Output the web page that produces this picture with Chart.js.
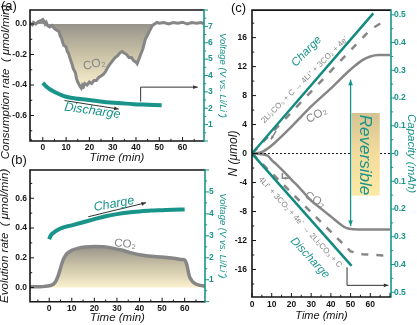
<!DOCTYPE html>
<html lang="en">
  <head>
    <meta charset="UTF-8" />
    <title>CO2 consumption / evolution during discharge and charge</title>
    <script src="https://cdn.jsdelivr.net/npm/chart.js"></script>
    <style>
      body {
        margin: 0;
        width: 417px;
        height: 325px;
        overflow: hidden;
        background: #fff;
        position: relative;
        font-family: 'Liberation Sans', Arial, sans-serif;
      }
      canvas { position: absolute; }
      .tag { position: absolute; font-size: 13px; color: #111; }
    </style>
  </head>
  <body>
    <canvas id="chartA" width="229" height="166" style="left:0;top:0"></canvas>
    <canvas id="chartB" width="229" height="165" style="left:0;top:160px"></canvas>
    <canvas id="chartC" width="195" height="325" style="left:222px;top:0"></canvas>
    <div class="tag" style="left:1px;top:-2px">(a)</div>
    <div class="tag" style="left:11px;top:152px">(b)</div>
    <div class="tag" style="left:231px;top:0">(c)</div>

    <script>
      // ---- (a) CO2 consumption rate during discharge (umol/min)
      const consTimeA = [-5.5, -4.5, -4, -3, -2, -1, 0, 0.5, 1, 1.5, 2, 3, 4, 5, 6, 7, 7.5, 8, 8.5, 9,
        10, 10.5, 11, 12, 12.5, 13, 14, 14.5, 15, 16, 16.5, 17, 17.5, 18, 19, 20, 21, 22, 23, 24,
        25, 26, 27, 28, 29, 30, 31, 32, 33, 34, 35, 36, 37, 38, 39, 40, 40.5, 41, 42, 43,
        44, 45, 46, 47, 48, 49, 50, 52, 54, 56, 58, 60, 62, 64, 66, 68, 69.2]
      const consRateA = [0.005, -0.005, 0.01, 0.0, 0.015, 0.02, 0.03, 0.02, 0.0, 0.01, -0.01, -0.02, -0.01, -0.03, -0.04, -0.05, -0.08, -0.09, -0.12, -0.14,
        -0.15, -0.18, -0.19, -0.24, -0.26, -0.29, -0.32, -0.36, -0.38, -0.41, -0.42, -0.40, -0.41, -0.39, -0.40, -0.38, -0.39, -0.37, -0.37, -0.35,
        -0.34, -0.33, -0.31, -0.28, -0.26, -0.24, -0.22, -0.21, -0.19, -0.18, -0.19, -0.20, -0.22, -0.22, -0.24, -0.25, -0.26, -0.24, -0.20, -0.16,
        -0.10, -0.07, -0.04, -0.01, 0.0, 0.01, 0.005, 0.01, 0.0, 0.01, 0.005, 0.012, 0.0, 0.01, 0.005, 0.01, 0.0]
      // (a) discharge voltage (V vs. Li/Li+)
      const dischTimeA = [0, 1, 2, 3, 4.5, 6, 8, 10, 14, 19, 24, 29, 34, 39, 45, 51]
      const dischVoltA = [3.55, 3.4, 3.27, 3.16, 3.04, 2.93, 2.8, 2.7, 2.6, 2.52, 2.43, 2.35, 2.3, 2.25, 2.22, 2.19]

      // ---- (b) CO2 evolution rate during charge (umol/min)
      const evoTimeB = [-8.5, -6, -4, -2, 0, 1, 2, 3, 4, 5, 6, 7, 8, 10, 13, 16, 20, 24, 28, 32,
        36, 40, 44, 48, 52, 56, 59, 60, 61, 62, 63, 64, 66, 69]
      const evoRateB = [0.005, 0.005, 0.006, 0.008, 0.012, 0.017, 0.025, 0.045, 0.08, 0.13, 0.18, 0.21, 0.23, 0.25, 0.265, 0.272, 0.276, 0.274, 0.265, 0.252,
        0.235, 0.22, 0.212, 0.207, 0.202, 0.195, 0.188, 0.185, 0.15, 0.08, 0.05, 0.034, 0.018, 0.01]
      // (b) charge voltage
      const chgTimeB = [0, 0.5, 1, 2, 3.5, 6, 10, 15, 20, 25, 30, 35, 40, 45, 50, 55, 60]
      const chgVoltB = [2.85, 2.98, 3.06, 3.15, 3.25, 3.37, 3.48, 3.62, 3.76, 3.89, 3.99, 4.06, 4.11, 4.15, 4.17, 4.19, 4.2]

      // ---- (c) cumulative CO2 (umol) and capacity (mAh)
      const co2UpTime = [0, 4, 8, 12, 20, 30, 40, 50, 56, 60, 64, 70]
      const co2Up = [0, 0.1, 0.7, 1.6, 3.7, 6.5, 9.0, 11.6, 12.9, 13.4, 13.6, 13.6]
      const co2DownTime = [0, 5, 8, 10, 12, 15, 20, 25, 30, 35, 40, 45, 48, 52, 60, 70]
      const co2Down = [0, -0.1, -0.3, -0.9, -1.4, -2.2, -3.6, -5.0, -6.5, -7.6, -8.7, -9.8, -10.3, -10.45, -10.5, -10.5]
      const theoUpTime = [0, 60, 66]
      const theoUp = [0, 17.1, 18.1]
      const theoDownTime = [0, 50, 56, 68]
      const theoDown = [0, -13.5, -13.9, -14.1]
      const chgCapTime = [0, 61.5]
      const chgCap = [0, 0.505]
      const disCapTime = [0, 50.5]
      const disCap = [0, -0.405]

      // ---- tick labels
      const timeTicksAB = [0, 10, 20, 30, 40, 50, 60]
      const timeTicksC = [0, 10, 20, 30, 40, 50, 60]
      const rateTicksA = [-0.6, -0.4, -0.2, 0]
      const rateTicksB = [0, 0.2, 0.4, 0.6]
      const voltTicksA = [1, 2, 3, 4, 5, 6, 7]
      const voltTicksB = [1, 2, 3, 4, 5]
      const nTicks = [-16, -12, -8, -4, 0, 4, 8, 12, 16]
      const capTicks = [-0.5, -0.4, -0.3, -0.2, -0.1, 0, 0.1, 0.2, 0.3, 0.4, 0.5]

      const FONT = "'Liberation Sans', Arial, sans-serif"
      const TEAL = '#18948a'
      const GREY = '#868686'
      const INK = '#151515'

      function pairs(xs, ys) {
        return xs.map((x, i) => ({ x: x, y: ys[i] }))
      }

      // axis with fixed box size, own tick list and no grid
      function axis(pos, min, max, tickVals, size, o) {
        const color = o.color || INK
        return {
          type: 'linear',
          position: pos,
          min: min,
          max: max,
          afterFit: s => {
            if (pos === 'bottom') s.height = size
            else s.width = size
          },
          afterBuildTicks: s => {
            s.ticks = tickVals.map(v => ({ value: v }))
          },
          grid: { display: false, drawTicks: false },
          border: { display: false },
          ticks: {
            color: color,
            autoSkip: false,
            maxRotation: 0,
            padding: o.pad,
            font: { family: FONT, size: o.tickSize || 8.5, weight: 'bold' },
            callback: o.fmt || (v => String(v))
          },
          title: {
            display: o.title !== '',
            text: o.title,
            color: color,
            font: { family: FONT, size: o.titleSize, style: 'italic' },
            padding: o.titlePad
          }
        }
      }

      function base(top, scales) {
        return {
          responsive: false,
          animation: false,
          events: [],
          layout: { padding: { top: top, left: 0, right: 0, bottom: 0 } },
          plugins: { legend: { display: false }, tooltip: { enabled: false } },
          scales: scales
        }
      }

      // grey-to-cream fill under the CO2 curves
      function shade(axisId, hi, lo) {
        return ctx => {
          const ch = ctx.chart
          if (!ch.chartArea) return 'rgba(0,0,0,0)'
          const s = ch.scales[axisId]
          const g = ch.ctx.createLinearGradient(0, s.getPixelForValue(hi), 0, s.getPixelForValue(lo))
          g.addColorStop(0, '#96938a')
          g.addColorStop(0.45, '#c8c0a5')
          g.addColorStop(1, '#fbf1d0')
          return g
        }
      }

      function deco(draw) {
        return {
          id: 'deco',
          afterDatasetsDraw(chart) {
            const c = chart.ctx
            c.save()
            draw(chart, c)
            c.restore()
          }
        }
      }

      function px(chart, xs, ys, t, v) {
        return [chart.scales[xs].getPixelForValue(t), chart.scales[ys].getPixelForValue(v)]
      }

      function frame(chart, c) {
        const a = chart.chartArea
        c.lineWidth = 1.6
        c.strokeStyle = INK
        c.beginPath()
        c.moveTo(a.right, a.top)
        c.lineTo(a.left, a.top)
        c.lineTo(a.left, a.bottom)
        c.lineTo(a.right, a.bottom)
        c.stroke()
        c.strokeStyle = TEAL
        c.beginPath()
        c.moveTo(a.right, a.top - 0.8)
        c.lineTo(a.right, a.bottom + 0.8)
        c.stroke()
      }

      // small tick marks: into the plot on left/bottom, out of it on the right
      function tickMarks(chart, c, id, major, minor, side, color) {
        const s = chart.scales[id]
        const a = chart.chartArea
        c.strokeStyle = color
        c.lineWidth = 1
        const k0 = Math.ceil(s.min / minor - 1e-9)
        const k1 = Math.floor(s.max / minor + 1e-9)
        for (let k = k0; k <= k1; k++) {
          const v = k * minor
          const isMajor = Math.abs(v / major - Math.round(v / major)) < 1e-6
          const len = isMajor ? 4 : 2.2
          const p = s.getPixelForValue(v)
          c.beginPath()
          if (side === 'left') {
            c.moveTo(a.left, p)
            c.lineTo(a.left + len, p)
          } else if (side === 'right') {
            c.moveTo(a.right, p)
            c.lineTo(a.right + len, p)
          } else {
            c.moveTo(p, a.bottom)
            c.lineTo(p, a.bottom - len)
          }
          c.stroke()
        }
      }

      function head(c, from, to, size) {
        const ang = Math.atan2(to[1] - from[1], to[0] - from[0])
        c.beginPath()
        c.moveTo(to[0], to[1])
        c.lineTo(to[0] - size * Math.cos(ang - 0.4), to[1] - size * Math.sin(ang - 0.4))
        c.lineTo(to[0] - size * Math.cos(ang + 0.4), to[1] - size * Math.sin(ang + 0.4))
        c.closePath()
        c.fill()
      }

      function arrow(chart, c, xs, ys, pts, color, w, size, both) {
        const p = pts.map(q => px(chart, xs, ys, q[0], q[1]))
        c.strokeStyle = color
        c.fillStyle = color
        c.lineWidth = w
        c.beginPath()
        p.forEach((q, i) => (i ? c.lineTo(q[0], q[1]) : c.moveTo(q[0], q[1])))
        c.stroke()
        head(c, p[p.length - 2], p[p.length - 1], size)
        if (both) head(c, p[1], p[0], size)
      }

      function label(chart, c, xs, ys, t, v, str, font, color, deg) {
        const q = px(chart, xs, ys, t, v)
        c.save()
        c.translate(q[0], q[1])
        c.rotate((deg * Math.PI) / 180)
        c.font = font
        c.fillStyle = color
        c.textAlign = 'center'
        c.textBaseline = 'middle'
        c.fillText(str, 0, 0)
        c.restore()
      }

      // ---------------- panel (a)
      function drawA(chart, c) {
        frame(chart, c)
        tickMarks(chart, c, 'x', 10, 5, 'bottom', INK)
        tickMarks(chart, c, 'y', 0.2, 0.1, 'left', INK)
        tickMarks(chart, c, 'yV', 1, 0.5, 'right', TEAL)
        arrow(chart, c, 'x', 'yV', [[9.3, 2.47], [32.6, 1.95]], '#333', 1, 5)
        arrow(chart, c, 'x', 'yV', [[42, 2.41], [42, 3.29], [66.5, 3.29]], '#333', 1, 5)
        label(chart, c, 'x', 'y', 22.1, -0.264, 'CO₂', '12px ' + FONT, GREY, -12)
        label(chart, c, 'x', 'yV', 21.3, 1.84, 'Discharge', 'italic 12.5px ' + FONT, TEAL, 8)
        // left title is longer than the plot, so it sits a little lower than centre
        c.save()
        c.translate(6, 82)
        c.rotate(-Math.PI / 2)
        c.font = 'italic 11.5px ' + FONT
        c.fillStyle = INK
        c.textAlign = 'center'
        c.textBaseline = 'middle'
        c.fillText('Consumption rate  ( μmol/min)', 0, 0)
        c.restore()
      }

      new Chart(document.getElementById('chartA'), {
        type: 'line',
        data: {
          datasets: [
            {
              data: pairs(dischTimeA, dischVoltA),
              yAxisID: 'yV',
              borderColor: TEAL,
              borderWidth: 4,
              pointRadius: 0,
              cubicInterpolationMode: 'monotone',
              fill: false
            },
            {
              data: pairs(consTimeA, consRateA),
              yAxisID: 'y',
              borderColor: GREY,
              borderWidth: 3,
              pointRadius: 0,
              fill: 'origin',
              backgroundColor: shade('y', 0, -0.42)
            }
          ]
        },
        options: base(10, {
          x: axis('bottom', -5.5, 69.2, timeTicksAB, 25, { title: 'Time (min)', titleSize: 11.5, pad: 2, titlePad: { top: 0, bottom: 1 } }),
          y: axis('left', -0.767, 0.092, rateTicksA, 30, { title: '', titleSize: 11.5, pad: 3, titlePad: 0, fmt: v => v.toFixed(1) }),
          yV: axis('right', 0, 8, voltTicksA, 25, {
            title: 'Voltage (V vs. Li/Li⁺)', titleSize: 9.5, color: TEAL, pad: 4, titlePad: { top: 1, bottom: 0 }
          })
        }),
        plugins: [deco(drawA)]
      })

      // ---------------- panel (b)
      function drawB(chart, c) {
        frame(chart, c)
        tickMarks(chart, c, 'x', 10, 5, 'bottom', INK)
        tickMarks(chart, c, 'y', 0.2, 0.1, 'left', INK)
        tickMarks(chart, c, 'yV', 1, 0.5, 'right', TEAL)
        arrow(chart, c, 'x', 'yV', [[17.3, 3.87], [42.9, 4.51]], '#333', 1, 5)
        label(chart, c, 'x', 'yV', 28.7, 4.45, 'Charge', 'italic 12.5px ' + FONT, TEAL, -10)
        label(chart, c, 'x', 'y', 33.6, 0.293, 'CO₂', '11.5px ' + FONT, GREY, 5)
      }

      new Chart(document.getElementById('chartB'), {
        type: 'line',
        data: {
          datasets: [
            {
              data: pairs(chgTimeB, chgVoltB),
              yAxisID: 'yV',
              borderColor: TEAL,
              borderWidth: 4,
              pointRadius: 0,
              cubicInterpolationMode: 'monotone',
              fill: false
            },
            {
              data: pairs(evoTimeB, evoRateB),
              yAxisID: 'y',
              borderColor: GREY,
              borderWidth: 3.5,
              pointRadius: 0,
              cubicInterpolationMode: 'monotone',
              fill: 'origin',
              backgroundColor: shade('y', 0.28, 0)
            }
          ]
        },
        options: base(10, {
          x: axis('bottom', -8.5, 69, timeTicksAB, 23.3, { title: 'Time (min)', titleSize: 11.5, pad: 2, titlePad: { top: 0, bottom: 0 } }),
          y: axis('left', -0.095, 0.79, rateTicksB, 30, {
            title: 'Evolution rate  ( μmol/min)', titleSize: 11.5, pad: 3, titlePad: { top: -2, bottom: 0 }, fmt: v => v.toFixed(1)
          }),
          yV: axis('right', 0, 6, voltTicksB, 24, {
            title: 'Voltage (V vs. Li/Li⁺)', titleSize: 9.5, color: TEAL, pad: 4, titlePad: { top: 1, bottom: 0 }
          })
        }),
        plugins: [deco(drawB)]
      })

      // ---------------- panel (c)
      function drawC(chart, c) {
        const a = chart.chartArea
        const y0 = chart.scales.y.getPixelForValue(0)
        c.strokeStyle = INK
        c.lineWidth = 1
        c.setLineDash([2, 2])
        c.beginPath()
        c.moveTo(a.left, y0)
        c.lineTo(a.right, y0)
        c.stroke()
        c.setLineDash([])

        // "Reversible" box
        const p1 = px(chart, 'x', 'y', 50, 5.6)
        const p2 = px(chart, 'x', 'y', 64.3, -5.8)
        const g = c.createLinearGradient(0, p1[1], 0, p2[1])
        g.addColorStop(0, '#d3c393')
        g.addColorStop(0.5, '#f4dc9c')
        g.addColorStop(1, '#fde9a6')
        c.fillStyle = g
        c.fillRect(p1[0] + 1, p1[1], p2[0] - p1[0], p2[1] - p1[1])
        label(chart, c, 'x', 'y', 57.3, -0.2, 'Reversible', 'italic 17px ' + FONT, TEAL, 90)

        arrow(chart, c, 'x', 'y', [[50, 10.2], [50, -10.0]], TEAL, 1.3, 6, true)
        arrow(chart, c, 'x', 'yC', [[48.2, -0.41], [48.2, -0.475], [69.2, -0.475]], '#333', 1, 5)
        arrow(chart, c, 'x', 'y', [[12.2, 3.1], [9.6, 1.95]], GREY, 1.5, 4)
        arrow(chart, c, 'x', 'y', [[15.4, -2.7], [15.4, -3.4], [18.6, -3.4]], GREY, 1.5, 4)

        label(chart, c, 'x', 'y', 27.7, 14.1, 'Charge', 'italic 11.5px ' + FONT, TEAL, -46)
        label(chart, c, 'x', 'y', 29.4, -14.4, 'Discharge', 'italic 11.5px ' + FONT, TEAL, 47)
        label(chart, c, 'x', 'y', 26.9, 10.2, '2Li₂CO₃ + C → 4Li⁺ + 3CO₂ + 4e⁻', '8px ' + FONT, GREY, -45)
        label(chart, c, 'x', 'y', 24.4, -9.5, '4Li⁺ + 3CO₂ + 4e⁻ → 2Li₂CO₃ + C', '8px ' + FONT, GREY, 47.7)
        label(chart, c, 'x', 'y', 32.8, 5.3, 'CO₂', '11.5px ' + FONT, GREY, -30)
        label(chart, c, 'x', 'y', 32, -6.4, 'CO₂', '11.5px ' + FONT, GREY, 30)

        frame(chart, c)
        tickMarks(chart, c, 'x', 10, 5, 'bottom', INK)
        tickMarks(chart, c, 'y', 4, 2, 'left', INK)
        tickMarks(chart, c, 'yC', 0.1, 0.05, 'right', TEAL)
      }

      new Chart(document.getElementById('chartC'), {
        type: 'line',
        data: {
          datasets: [
            { data: pairs(chgCapTime, chgCap), yAxisID: 'yC', borderColor: '#128a80', borderWidth: 2.5, pointRadius: 0, order: 0 },
            { data: pairs(disCapTime, disCap), yAxisID: 'yC', borderColor: '#128a80', borderWidth: 2.5, pointRadius: 0, order: 0 },
            { data: pairs(theoUpTime, theoUp), yAxisID: 'y', borderColor: GREY, borderWidth: 2.5, borderDash: [7, 9], pointRadius: 0, order: 1 },
            { data: pairs(theoDownTime, theoDown), yAxisID: 'y', borderColor: GREY, borderWidth: 2.5, borderDash: [7, 8], pointRadius: 0, order: 1 },
            { data: pairs(co2UpTime, co2Up), yAxisID: 'y', borderColor: GREY, borderWidth: 2.5, pointRadius: 0, cubicInterpolationMode: 'monotone', order: 2 },
            { data: pairs(co2DownTime, co2Down), yAxisID: 'y', borderColor: GREY, borderWidth: 2.5, pointRadius: 0, cubicInterpolationMode: 'monotone', order: 2 }
          ]
        },
        options: base(10, {
          x: axis('bottom', 0, 70.5, timeTicksC, 28, { title: 'Time (min)', titleSize: 11, pad: 3, titlePad: { top: 0, bottom: 2 } }),
          y: axis('left', -19.8, 19.8, nTicks, 30, { title: 'N (μmol)', titleSize: 12, pad: 5, titlePad: { top: 4, bottom: 0 } }),
          yC: axis('right', -0.517, 0.517, capTicks, 26, {
            title: 'Capacity (mAh)', titleSize: 11.5, color: TEAL, pad: 3, titlePad: { top: -1, bottom: 0 },
            fmt: v => (v === 0 ? '0' : Math.abs(v).toFixed(1))
          })
        }),
        plugins: [deco(drawC)]
      })
    </script>
  </body>
</html>
